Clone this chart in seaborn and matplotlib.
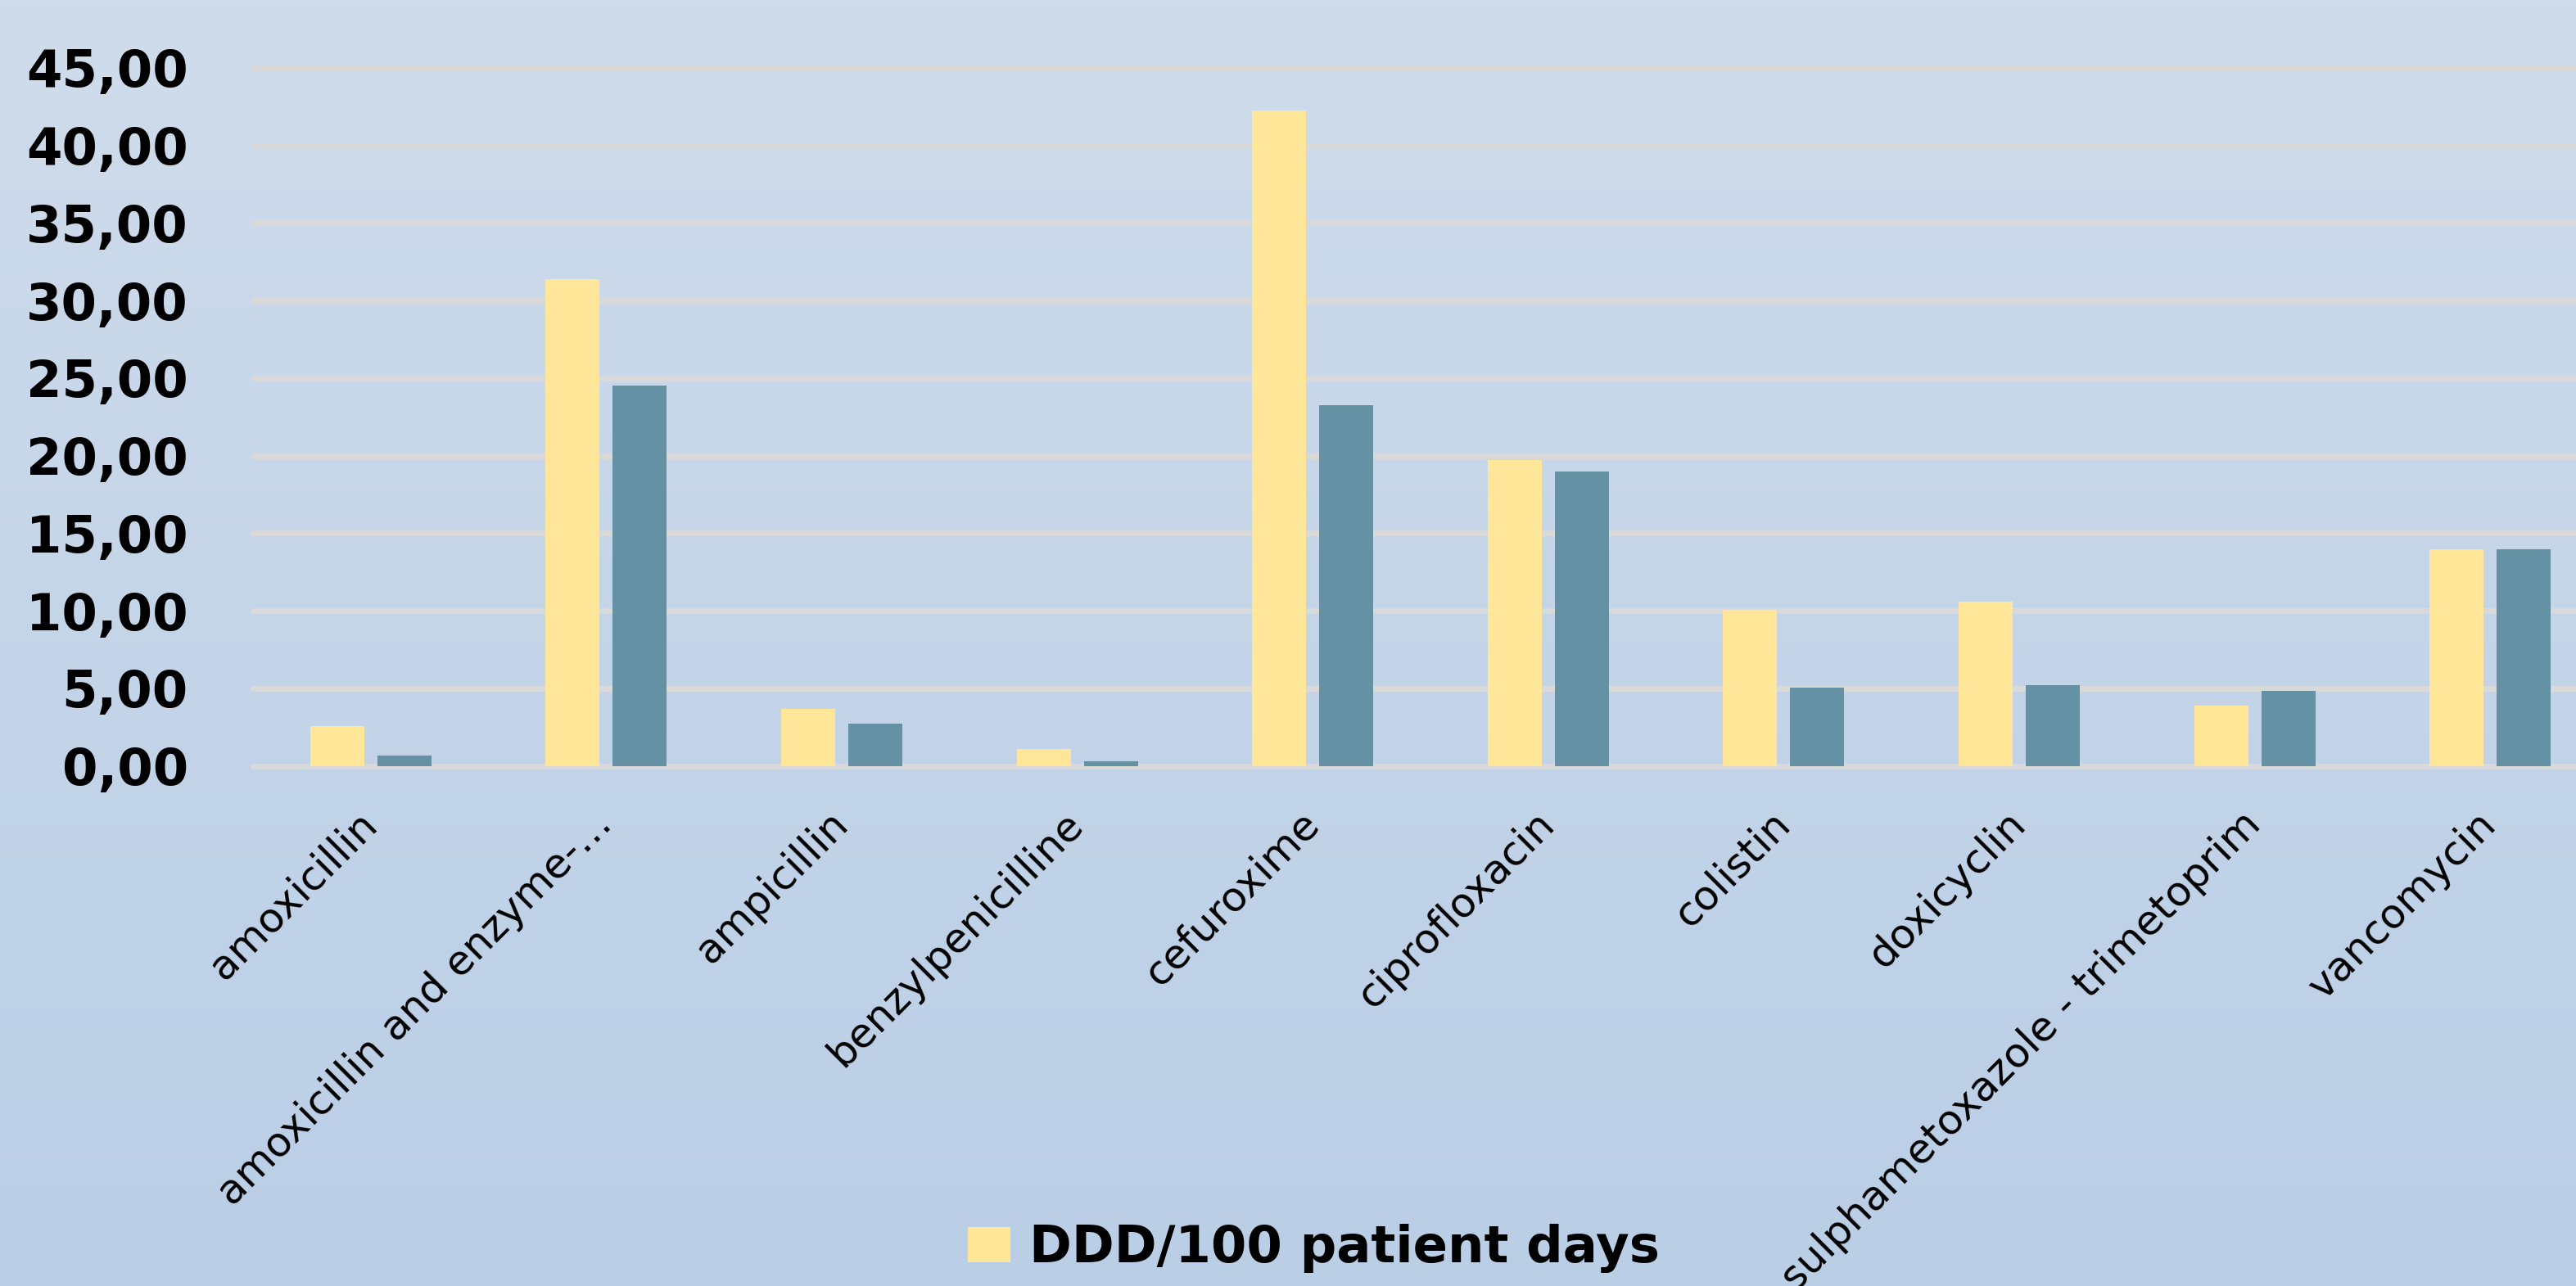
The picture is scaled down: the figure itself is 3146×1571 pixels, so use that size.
import numpy as np
import pandas as pd
import matplotlib
matplotlib.use("Agg")
import matplotlib.pyplot as plt
import seaborn as sns
from matplotlib.ticker import FuncFormatter
from matplotlib.patches import Patch
from matplotlib.colors import LinearSegmentedColormap

# ---- data ----
categories = ["amoxicillin", "amoxicillin and enzyme-…", "ampicillin",
              "benzylpenicilline", "cefuroxime", "ciprofloxacin", "colistin",
              "doxicyclin", "sulphametoxazole - trimetoprim", "vancomycin"]
series_names = ["DDD/100 patient days", "DDD/100 patient days (series 2)"]
values_1 = [2.56, 31.36, 3.67, 1.08, 42.26, 19.71, 10.04, 10.59, 3.86, 13.96]
values_2 = [0.66, 24.52, 2.72, 0.28, 23.23, 18.97, 5.04, 5.21, 4.84, 13.96]
y_ticks = [0, 5, 10, 15, 20, 25, 30, 35, 40, 45]
colors = ["#FFE699", "#6591A5"]

df = pd.DataFrame({
    "drug": categories * 2,
    "series": [series_names[0]] * len(categories) + [series_names[1]] * len(categories),
    "value": values_1 + values_2,
})

sns.set_theme(style="white")
plt.rcParams["font.family"] = ["DejaVu Sans"]
plt.rcParams["text.color"] = "black"

W, H = 3146, 1571
fig = plt.figure(figsize=(W / 100, H / 100), dpi=100)

# background gradient
bg = fig.add_axes([0, 0, 1, 1], zorder=-10)
grad = np.linspace(0, 1, 256).reshape(-1, 1)
cmap = LinearSegmentedColormap.from_list("bg", ["#CFDCEB", "#BACEE6"])
bg.imshow(grad, aspect="auto", cmap=cmap, extent=[0, 1, 0, 1], origin="upper")
bg.axis("off")

# main axes (extends beyond the right edge, as in the cropped reference)
left, right = 309, 309 + 2876
top, bottom = 82.8, 935.5
ax = fig.add_axes([left / W, 1 - bottom / H, (right - left) / W, (bottom - top) / H])
ax.patch.set_alpha(0)

for t in y_ticks:
    ax.axhline(t, color="#D9D9D9", linewidth=5.04, zorder=0, clip_on=False)

sns.barplot(data=df, x="drug", y="value", hue="series", palette=colors,
            width=0.570, gap=0.195, saturation=1, ax=ax, legend=False,
            zorder=2, linewidth=0, edgecolor="none")

ax.set_xlim(-0.5, len(categories) - 0.5)
ax.set_ylim(0, 45)
ax.set_yticks(y_ticks)
ax.yaxis.set_major_formatter(FuncFormatter(lambda v, p: f"{v:.2f}".replace(".", ",")))
ax.grid(False)
for s in ax.spines.values():
    s.set_visible(False)
ax.set_xlabel("")
ax.set_ylabel("")

ax.tick_params(axis="y", length=0, pad=57, labelsize=45, labelcolor="black")
for lbl in ax.get_yticklabels():
    lbl.set_fontweight("bold")

ax.tick_params(axis="x", length=0, pad=46, labelsize=36, labelcolor="black")
for lbl in ax.get_xticklabels():
    lbl.set_rotation(45)
    lbl.set_ha("right")
    lbl.set_va("center")
    lbl.set_rotation_mode("anchor")

fig.legend(handles=[Patch(facecolor=colors[0], edgecolor="none")],
           labels=[series_names[0]],
           loc="center left", bbox_to_anchor=(1182 / W, 1 - 1525 / H),
           frameon=False, prop=dict(size=45, weight="bold"),
           labelcolor="black",
           handlelength=0.83, handleheight=0.68, handletextpad=0.37,
           borderpad=0, borderaxespad=0)

fig.savefig("out.png", dpi=100)
